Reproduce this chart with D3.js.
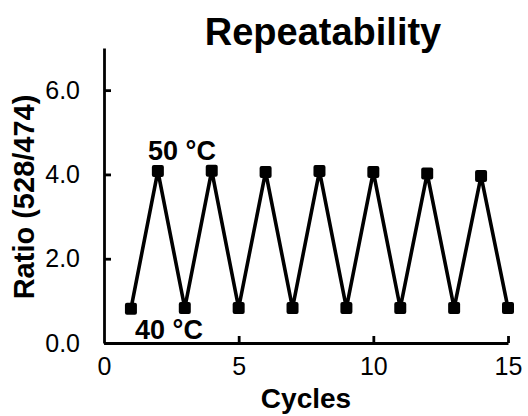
<!DOCTYPE html>
<html>
<head>
<meta charset="utf-8">
<script src="https://cdn.jsdelivr.net/npm/d3@7"></script>
<style>
  body { margin: 0; background: #fff; }
  svg { display: block; font-family: "Liberation Sans", Arial, sans-serif; }
</style>
</head>
<body>
<svg id="chart" width="528" height="416"></svg>
<script>
// cycle number and measured ratio
const cycles = [1, 2, 3, 4, 5, 6, 7, 8, 9, 10, 11, 12, 13, 14, 15];
const ratios = [0.81, 4.08, 0.83, 4.09, 0.83, 4.06, 0.83, 4.08, 0.83, 4.06, 0.83, 4.02, 0.83, 3.96, 0.83];
const xTicks = [0, 5, 10, 15];
const yTicks = [0, 2, 4, 6];

const svg = d3.select('#chart');

const x = d3.scaleLinear().domain([0, 15]).range([104, 508]);
const y = d3.scaleLinear().domain([0, 7]).range([343, 48]);

const points = cycles.map((c, i) => ({ c: c, v: ratios[i] }));

// axes, ticks pointing inward
const xAxis = svg.append('g')
  .attr('transform', `translate(0,${y(0)})`)
  .call(d3.axisBottom(x).tickValues(xTicks).tickSize(-7).tickSizeOuter(0).tickPadding(14));

const yAxis = svg.append('g')
  .attr('transform', `translate(${x(0)},0)`)
  .call(d3.axisLeft(y).tickValues(yTicks).tickSize(-7).tickSizeOuter(0).tickPadding(24)
    .tickFormat(d3.format('.1f')));

[xAxis, yAxis].forEach(g => {
  g.select('.domain').attr('stroke', '#000').attr('stroke-width', 2.8);
  g.selectAll('.tick line').attr('stroke', '#000').attr('stroke-width', 2.8);
  g.selectAll('.tick text').attr('fill', '#000').attr('font-size', 25);
});
xAxis.selectAll('.tick text').attr('dy', '0.71em');
xAxis.selectAll('.tick').filter(d => d === 0).select('line').remove();

// line
svg.append('path')
  .datum(points)
  .attr('fill', 'none')
  .attr('stroke', '#000')
  .attr('stroke-width', 3.6)
  .attr('stroke-linejoin', 'miter')
  .attr('d', d3.line().x(d => x(d.c)).y(d => y(d.v)));

// square markers
const s = 12;
svg.append('g').selectAll('rect')
  .data(points)
  .join('rect')
  .attr('x', d => x(d.c) - s / 2)
  .attr('y', d => y(d.v) - s / 2)
  .attr('width', s)
  .attr('height', s)
  .attr('rx', 2)
  .attr('fill', '#000');

// labels
svg.append('text')
  .attr('x', 323).attr('y', 45)
  .attr('text-anchor', 'middle')
  .attr('font-size', 38).attr('font-weight', 'bold')
  .text('Repeatability');

svg.append('text')
  .attr('transform', 'translate(34,197) rotate(-90)')
  .attr('text-anchor', 'middle')
  .attr('font-size', 29).attr('font-weight', 'bold')
  .text('Ratio (528/474)');

svg.append('text')
  .attr('x', 306).attr('y', 408)
  .attr('text-anchor', 'middle')
  .attr('font-size', 28).attr('font-weight', 'bold')
  .text('Cycles');

svg.append('text')
  .attr('x', 182).attr('y', 160)
  .attr('text-anchor', 'middle')
  .attr('font-size', 27).attr('font-weight', 'bold')
  .text('50 °C');

svg.append('text')
  .attr('x', 169).attr('y', 339)
  .attr('text-anchor', 'middle')
  .attr('font-size', 27).attr('font-weight', 'bold')
  .text('40 °C');
</script>
</body>
</html>
